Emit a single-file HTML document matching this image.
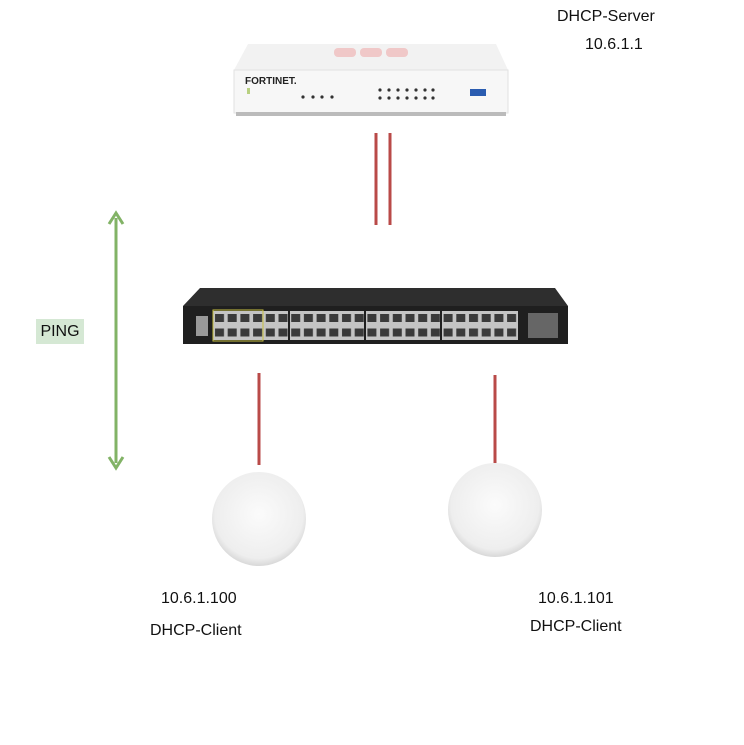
<!DOCTYPE html>
<html><head><style>
body{margin:0;width:744px;height:745px;background:#fff;position:relative;overflow:hidden;font-family:"Liberation Sans",sans-serif}
.t{position:absolute;font-size:16px;color:#111}
</style></head><body>
<svg width="744" height="745" style="position:absolute;left:0;top:0">
<defs>
<radialGradient id="ap" cx="50%" cy="45%" r="55%"><stop offset="0" stop-color="#fbfbfb"/><stop offset="0.85" stop-color="#eeeeee"/><stop offset="1" stop-color="#d8d8d8"/></radialGradient>
<pattern id="ports" x="213" y="311" width="12.7" height="14.5" patternUnits="userSpaceOnUse"><rect width="12.7" height="14.5" fill="#c4c4c4"/><rect x="2" y="3" width="9" height="8" fill="#3a3a3a"/></pattern>
</defs>
<polygon points="248,44 496,44 508,70 234,70" fill="#f2f2f2"/>
<rect x="334" y="48" width="22" height="9" rx="4" fill="#f0c8c8"/><rect x="360" y="48" width="22" height="9" rx="4" fill="#f0c8c8"/><rect x="386" y="48" width="22" height="9" rx="4" fill="#f0c8c8"/>
<rect x="234" y="70" width="274" height="43" fill="#f7f7f7" stroke="#e2e2e2"/>
<rect x="236" y="112" width="270" height="4" fill="#bbb"/>
<text x="245" y="84" font-size="10" font-weight="bold" fill="#222" font-family="Liberation Sans">FORTINET.</text>
<rect x="247" y="88" width="3" height="6" fill="#b8d080"/>
<g fill="#333"><circle cx="303" cy="97" r="1.6"/><circle cx="313" cy="97" r="1.6"/><circle cx="322" cy="97" r="1.6"/><circle cx="332" cy="97" r="1.6"/>
<circle cx="380" cy="90" r="1.6"/><circle cx="389" cy="90" r="1.6"/><circle cx="398" cy="90" r="1.6"/><circle cx="407" cy="90" r="1.6"/><circle cx="416" cy="90" r="1.6"/><circle cx="425" cy="90" r="1.6"/><circle cx="433" cy="90" r="1.6"/>
<circle cx="380" cy="98" r="1.6"/><circle cx="389" cy="98" r="1.6"/><circle cx="398" cy="98" r="1.6"/><circle cx="407" cy="98" r="1.6"/><circle cx="416" cy="98" r="1.6"/><circle cx="425" cy="98" r="1.6"/><circle cx="433" cy="98" r="1.6"/></g>
<rect x="470" y="89" width="16" height="7" fill="#2a5cb0"/>
<polygon points="200,288 555,288 568,306 183,306" fill="#2e2e2e"/>
<rect x="183" y="306" width="385" height="38" fill="#1f1f1f"/>
<rect x="213" y="311" width="305" height="29" fill="url(#ports)"/>
<g stroke="#1f1f1f" stroke-width="2"><line x1="289" y1="310" x2="289" y2="341"/><line x1="365" y1="310" x2="365" y2="341"/><line x1="441" y1="310" x2="441" y2="341"/></g>
<rect x="213" y="310" width="50" height="31" fill="none" stroke="#c8c040" stroke-width="1"/>
<rect x="196" y="316" width="12" height="20" fill="#999"/>
<rect x="528" y="313" width="30" height="25" fill="#666"/>
<circle cx="259" cy="519" r="47" fill="url(#ap)"/>
<circle cx="495" cy="510" r="47" fill="url(#ap)"/>
<g stroke="#b94a48" stroke-width="3">
<line x1="376" y1="133" x2="376" y2="225"/><line x1="390" y1="133" x2="390" y2="225"/>
<line x1="259" y1="373" x2="259" y2="465"/><line x1="495" y1="375" x2="495" y2="463"/>
</g>
<g stroke="#82b366" stroke-width="3" fill="none">
<line x1="116" y1="218" x2="116" y2="463"/>
<polyline points="109,224 116,213 123,224"/><polyline points="109,457 116,468 123,457"/>
</g>
</svg>
<div class="t" style="left:36px;top:319px;width:48px;height:25px;background:#d5e8d4;line-height:25px;text-align:center">PING</div>
<div class="t" style="left:557px;top:8px">DHCP-Server</div>
<div class="t" style="left:585px;top:36px">10.6.1.1</div>
<div class="t" style="left:161px;top:590px">10.6.1.100</div>
<div class="t" style="left:150px;top:622px">DHCP-Client</div>
<div class="t" style="left:538px;top:590px">10.6.1.101</div>
<div class="t" style="left:530px;top:618px">DHCP-Client</div>
</body></html>
